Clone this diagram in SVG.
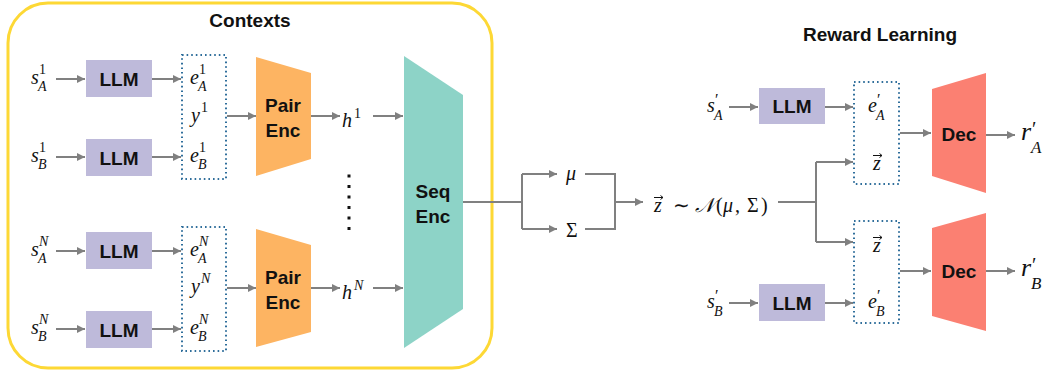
<svg xmlns="http://www.w3.org/2000/svg" width="1048" height="373" viewBox="0 0 1048 373">
<style>
.t{font-family:"Liberation Sans",Arial,sans-serif;font-weight:bold;font-size:19px;fill:#111;text-anchor:middle}
.m{font-family:"Liberation Serif","Times New Roman",serif;font-style:italic;font-size:20px;fill:#111}
.u{font-style:normal}
.s{font-size:14px}
.d{font-style:normal;font-size:14px}
.p{font-style:normal;font-size:16px}
.r{font-size:26px}
.llm{fill:#BEBADA}
.dot{fill:none;stroke:#2F6E9B;stroke-width:2;stroke-dasharray:1.6 3}
.a{fill:none;stroke:#808080;stroke-width:2;marker-end:url(#ah)}
.l{fill:none;stroke:#808080;stroke-width:2}
.vec{fill:none;stroke:#111;stroke-width:1}
</style>
<defs>
<marker id="ah" markerUnits="userSpaceOnUse" markerWidth="9" markerHeight="9" refX="8" refY="4.5" orient="auto">
<path d="M0,0.5 L8,4.5 L0,8.5 z" fill="#808080"/>
</marker>
</defs>

<g id="contexts-frame">
<rect x="8" y="3" width="484" height="365" rx="40" ry="40" fill="none" stroke="#FDD835" stroke-width="3"/>
<text class="t" x="250" y="27">Contexts</text>
</g>

<g id="reward-title"><text class="t" x="880" y="41">Reward Learning</text></g>

<g id="sA1"><text class="m" x="31" y="84">s</text><text class="m d" x="39" y="74">1</text><text class="m s" x="38" y="91">A</text></g>
<g id="sB1"><text class="m" x="31" y="162">s</text><text class="m d" x="39" y="152">1</text><text class="m s" x="38" y="169">B</text></g>
<g id="sAN"><text class="m" x="31" y="256">s</text><text class="m s" x="39" y="246">N</text><text class="m s" x="38" y="263">A</text></g>
<g id="sBN"><text class="m" x="31" y="334">s</text><text class="m s" x="39" y="324">N</text><text class="m s" x="38" y="341">B</text></g>

<g id="llm1"><rect class="llm" x="86" y="60" width="66" height="37"/><text class="t" x="119" y="85.5">LLM</text></g>
<g id="llm2"><rect class="llm" x="86" y="139" width="66" height="37"/><text class="t" x="119" y="164.5">LLM</text></g>
<g id="llm3"><rect class="llm" x="86" y="232" width="66" height="37"/><text class="t" x="119" y="257.5">LLM</text></g>
<g id="llm4"><rect class="llm" x="86" y="311" width="66" height="37"/><text class="t" x="119" y="336.5">LLM</text></g>

<g id="pair1-inputs">
<rect class="dot" x="182" y="55" width="44" height="124"/>
<text class="m" x="190" y="84">e</text><text class="m d" x="199" y="74">1</text><text class="m s" x="198" y="91">A</text>
<text class="m" x="191" y="122">y</text><text class="m d" x="201" y="112">1</text>
<text class="m" x="190" y="162">e</text><text class="m d" x="199" y="152">1</text><text class="m s" x="198" y="169">B</text>
</g>
<g id="pairN-inputs">
<rect class="dot" x="182" y="227" width="44" height="124"/>
<text class="m" x="190" y="256">e</text><text class="m s" x="199" y="246">N</text><text class="m s" x="198" y="263">A</text>
<text class="m" x="191" y="293">y</text><text class="m s" x="201" y="283">N</text>
<text class="m" x="190" y="334">e</text><text class="m s" x="199" y="324">N</text><text class="m s" x="198" y="341">B</text>
</g>

<g id="pair-enc-1"><polygon points="256,57 311,73 311,159 256,176" fill="#FDB462"/><text class="t" x="283" y="112">Pair</text><text class="t" x="283" y="137">Enc</text></g>
<g id="pair-enc-N"><polygon points="256,229 311,245 311,332 256,347" fill="#FDB462"/><text class="t" x="283" y="284">Pair</text><text class="t" x="283" y="309">Enc</text></g>

<g id="h1"><text class="m" x="342" y="127">h</text><text class="m d" x="354" y="118">1</text></g>
<g id="hN"><text class="m" x="342" y="299">h</text><text class="m s" x="354" y="290">N</text></g>

<g id="vdots">
<rect x="347.5" y="174.5" width="3" height="3" fill="#111"/>
<rect x="347.5" y="185" width="3" height="3" fill="#111"/>
<rect x="347.5" y="195.5" width="3" height="3" fill="#111"/>
<rect x="347.5" y="206" width="3" height="3" fill="#111"/>
<rect x="347.5" y="216.5" width="3" height="3" fill="#111"/>
<rect x="347.5" y="227" width="3" height="3" fill="#111"/>
</g>

<g id="seq-enc"><polygon points="404,56 463,95 463,309 404,348" fill="#8DD3C7"/><text class="t" x="433" y="198">Seq</text><text class="t" x="433" y="223">Enc</text></g>

<g id="mu"><text class="m" x="566" y="180">μ</text></g>
<g id="sigma"><text class="m u" x="566" y="237">Σ</text></g>

<g id="latent">
<path class="vec" d="M654,197.5 H663 M660.5,195.5 L663,197.5 L660.5,199.5"/>
<text class="m"><tspan x="654" y="212">z</tspan><tspan class="u" x="673" y="212">∼</tspan><tspan x="695" y="212">𝒩</tspan><tspan class="u" x="716" y="212">(</tspan><tspan x="723" y="212">μ</tspan><tspan class="u" x="735" y="212">,</tspan><tspan class="u" x="747" y="212">Σ</tspan><tspan class="u" x="761" y="212">)</tspan></text>
</g>

<g id="sA-prime"><text class="m" x="707" y="112">s</text><text class="m p" x="715" y="105">′</text><text class="m s" x="714" y="120">A</text></g>
<g id="sB-prime"><text class="m" x="707" y="308">s</text><text class="m p" x="715" y="301">′</text><text class="m s" x="714" y="316">B</text></g>
<g id="llm5"><rect class="llm" x="759" y="88" width="66" height="36"/><text class="t" x="792" y="113">LLM</text></g>
<g id="llm6"><rect class="llm" x="759" y="284" width="66" height="37"/><text class="t" x="792" y="309.5">LLM</text></g>

<g id="decA-inputs">
<rect class="dot" x="854" y="82" width="45" height="102"/>
<text class="m" x="868" y="112">e</text><text class="m p" x="877" y="105">′</text><text class="m s" x="876" y="120">A</text>
<path class="vec" d="M873,155.5 H882 M879.5,153.5 L882,155.5 L879.5,157.5"/>
<text class="m" x="873" y="170">z</text>
</g>
<g id="decB-inputs">
<rect class="dot" x="854" y="221" width="45" height="102"/>
<path class="vec" d="M873,237.5 H882 M879.5,235.5 L882,237.5 L879.5,239.5"/>
<text class="m" x="873" y="252">z</text>
<text class="m" x="868" y="308">e</text><text class="m p" x="877" y="301">′</text><text class="m s" x="876" y="316">B</text>
</g>

<g id="dec-A"><polygon points="932,89 986,73 986,193 932,176" fill="#FB8072"/><text class="t" x="959" y="141">Dec</text></g>
<g id="dec-B"><polygon points="932,228 986,213 986,331 932,316" fill="#FB8072"/><text class="t" x="959" y="278">Dec</text></g>

<g id="rA"><text class="m r" x="1021" y="140">r</text><text class="m u" x="1032" y="136" style="font-size:20px">′</text><text class="m" x="1031" y="153" style="font-size:17px">A</text></g>
<g id="rB"><text class="m r" x="1021" y="276">r</text><text class="m u" x="1032" y="272" style="font-size:20px">′</text><text class="m" x="1031" y="289" style="font-size:17px">B</text></g>

<g id="connectors">
<line class="a" x1="56" y1="79" x2="85" y2="79"/>
<line class="a" x1="56" y1="157" x2="85" y2="157"/>
<line class="a" x1="56" y1="251" x2="85" y2="251"/>
<line class="a" x1="56" y1="329" x2="85" y2="329"/>
<line class="a" x1="152" y1="79" x2="181" y2="79"/>
<line class="a" x1="152" y1="157" x2="181" y2="157"/>
<line class="a" x1="152" y1="251" x2="181" y2="251"/>
<line class="a" x1="152" y1="329" x2="181" y2="329"/>
<line class="a" x1="227" y1="116" x2="256" y2="116"/>
<line class="a" x1="227" y1="288" x2="256" y2="288"/>
<line class="a" x1="311" y1="116" x2="340" y2="116"/>
<line class="a" x1="311" y1="288" x2="340" y2="288"/>
<line class="a" x1="373" y1="116" x2="403" y2="116"/>
<line class="a" x1="373" y1="288" x2="403" y2="288"/>
<path class="l" d="M463,202 H522 M522,174 V229"/>
<path class="a" d="M522,174 H557"/>
<path class="a" d="M522,229 H557"/>
<path class="l" d="M585,174 H615 V229 H585"/>
<path class="a" d="M615,202 H643"/>
<path class="l" d="M778,202 H816 M816,162 V242"/>
<path class="a" d="M816,162 H853"/>
<path class="a" d="M816,242 H853"/>
<line class="a" x1="729" y1="107" x2="758" y2="107"/>
<line class="a" x1="729" y1="303" x2="758" y2="303"/>
<line class="a" x1="825" y1="107" x2="853" y2="107"/>
<line class="a" x1="825" y1="303" x2="853" y2="303"/>
<line class="a" x1="900" y1="133" x2="931" y2="133"/>
<line class="a" x1="900" y1="271" x2="931" y2="271"/>
<line class="a" x1="986" y1="135" x2="1015" y2="135"/>
<line class="a" x1="986" y1="271" x2="1015" y2="271"/>
</g>
</svg>
